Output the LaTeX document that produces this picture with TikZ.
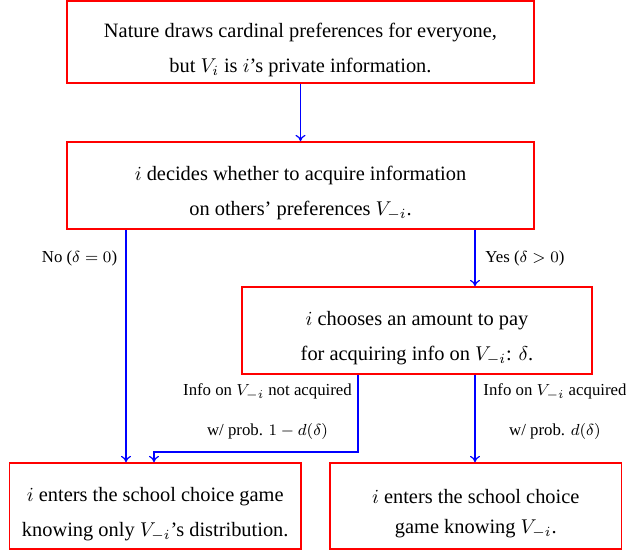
\documentclass[tikz,border=0pt]{standalone}
\usepackage{fontspec}
\setmainfont{Liberation Serif}
\usetikzlibrary{arrows.meta}
\newcommand{\dnstrut}{\rule{0pt}{15pt}}
\begin{document}
\begin{tikzpicture}[x=0.5pt,y=-0.5pt,
  box/.style={draw=red,line width=0.75pt,inner sep=0pt,align=center,
    font={\fontsize{10.2}{17.5}\selectfont}},
  conn/.style={draw=blue,line width=0.6pt,-{To[length=3.2pt,width=5pt]}},
  lbl/.style={inner sep=0pt,align=center,font={\fontsize{8.4}{20}\selectfont}}]
\useasboundingbox (0,0) rectangle (626,554);
\node[box,minimum width=233.5pt,minimum height=41pt] (b1) at (300.5,42)
  {\dnstrut Nature draws cardinal preferences for everyone,\\ but $V_i$ is $i$'s private information.};
\node[box,minimum width=233.5pt,minimum height=43.5pt] (b2) at (300.5,185.5)
  {\dnstrut$i$ decides whether to acquire information\\ on others' preferences $V_{-i}$.};
\node[box,minimum width=175pt,minimum height=43.5pt] (b3) at (417,330.5)
  {\dnstrut$i$ chooses an amount to pay\\ for acquiring info on $V_{-i}$: $\delta$.};
\node[box,minimum width=145.75pt,minimum height=43pt] (b4) at (155.25,506)
  {\dnstrut$i$ enters the school choice game\\ knowing only $V_{-i}$'s distribution.};
\node[box,minimum width=145.75pt,minimum height=43pt,font={\fontsize{10.2}{15}\selectfont}] (b5) at (475.75,506)
  {\dnstrut$i$ enters the school choice\\ game knowing $V_{-i}$.};
\coordinate (pL) at (126,0);
\coordinate (pR) at (475,0);
\coordinate (pM) at (358,0);
\coordinate (elb) at (154,452);
\draw[conn] (b1.south) -- (b2.north);
\draw[conn] (b2.south -| pL) -- (b4.north -| pL);
\draw[conn] (b2.south -| pR) -- (b3.north -| pR);
\draw[conn] (b3.south -| pM) |- (elb) -- (b4.north -| elb);
\draw[conn] (b3.south -| pR) -- (b5.north -| pR);
\node[lbl,anchor=east] (l1) at (117.5,258) {No ($\delta = 0$)};
\node[lbl,anchor=west] (l2) at (485,258) {Yes ($\delta > 0$)};
\node[lbl] (l3) at (267.5,412) {Info on $V_{-i}$ not acquired\\ w/ prob. $1 - d(\delta)$};
\node[lbl] (l4) at (555,412) {Info on $V_{-i}$ acquired\\ w/ prob. $d(\delta)$};
\end{tikzpicture}
\end{document}
